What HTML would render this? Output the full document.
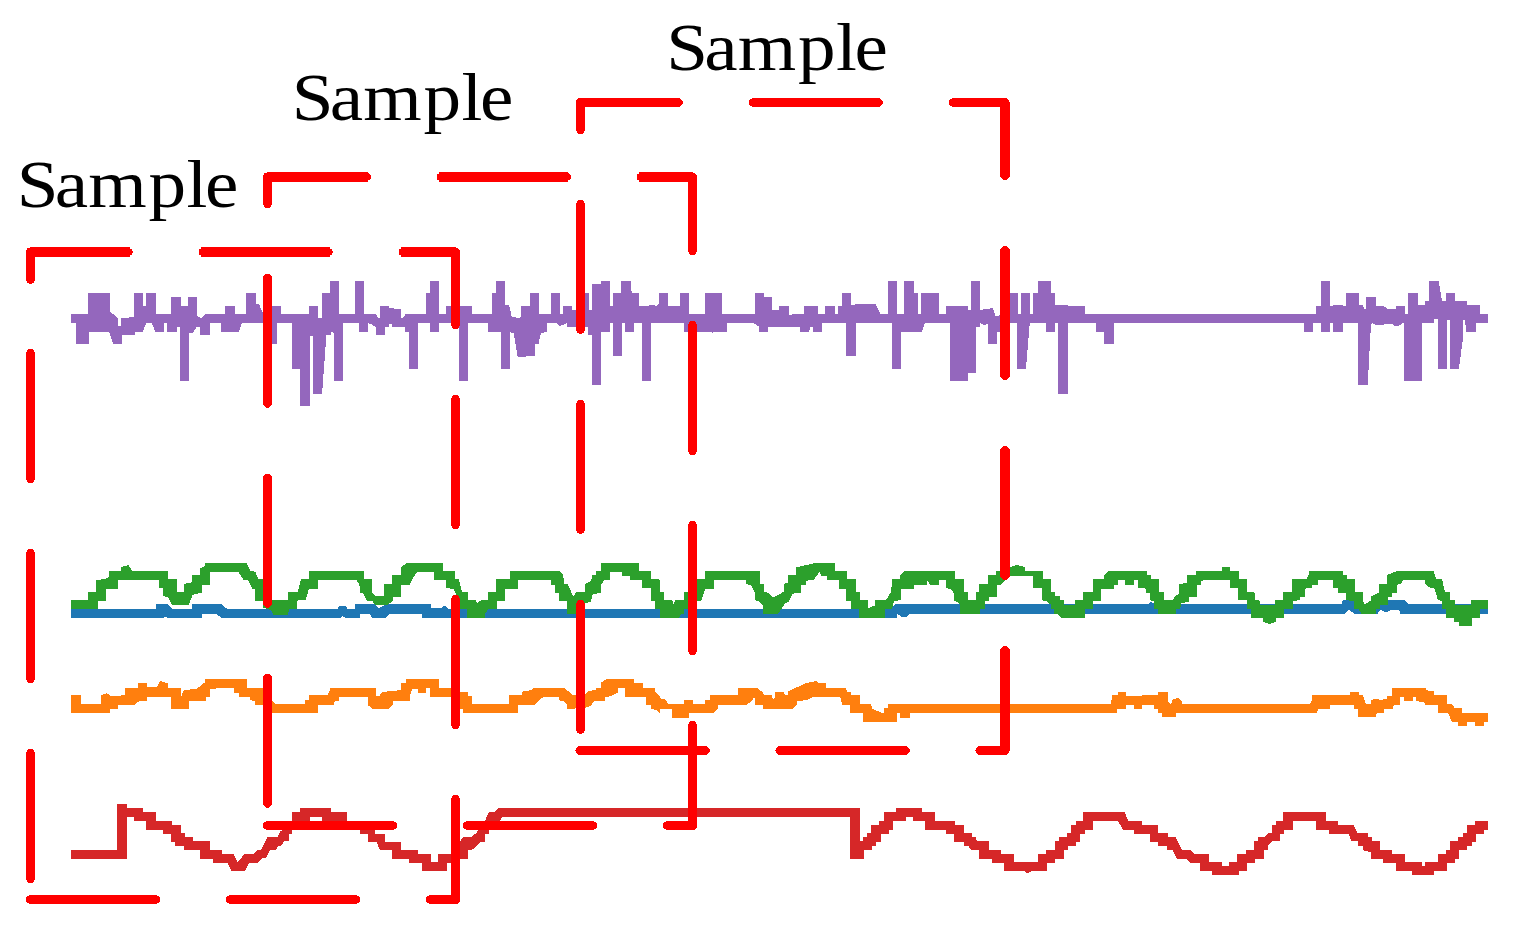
<!DOCTYPE html>
<html lang="en">
<head>
<meta charset="utf-8">
<title>Sample windows</title>
<style>
html,body{margin:0;padding:0;background:#ffffff;}
body{width:1513px;height:937px;overflow:hidden;}
svg{display:block;}
.lbl{font-family:"Liberation Serif",serif;fill:#000000;}
.sig{shape-rendering:crispEdges;stroke:none;}
.win{fill:none;stroke:#ff0000;stroke-linejoin:round;shape-rendering:crispEdges;}
</style>
</head>
<body>
<svg width="1513" height="937" viewBox="0 0 1513 937">
<rect x="0" y="0" width="1513" height="937" fill="#ffffff"/>
<path class="sig" fill="#1f77b4" d="M70.9 608.5 L155.6 608.5 L155.6 604.2 L168.1 604.2 L172.0 608.5 L191.9 608.5 L191.9 604.2 L221.6 604.2 L226.6 608.5 L337.6 608.5 L339.6 606.2 L345.5 606.2 L347.5 608.5 L355.4 608.5 L355.4 604.2 L360.0 604.2 L360.0 604.2 L374.9 604.2 L378.8 608.1 L383.8 605.6 L387.8 604.2 L430.8 604.2 L430.8 608.1 L441.3 608.1 L444.3 605.6 L448.2 608.5 L660.0 608.5 L660.0 608.5 L891.0 608.5 L895.0 604.2 L960.0 604.2 L960.0 604.2 L1148.4 604.2 L1151.3 601.6 L1154.3 604.2 L1260.0 604.2 L1260.0 604.2 L1341.3 604.2 L1342.9 600.2 L1353.8 600.2 L1353.8 604.2 L1387.5 604.2 L1387.5 600.2 L1404.3 600.2 L1408.3 604.2 L1488.0 604.2 L1488.0 613.5 L1400.4 613.5 L1399.4 610.5 L1391.5 610.1 L1385.5 612.5 L1380.5 609.5 L1377.6 613.5 L1353.8 613.5 L1348.8 609.5 L1344.9 613.5 L1260.0 613.5 L1260.0 613.5 L960.0 613.5 L960.0 613.5 L909.8 613.5 L906.9 616.5 L900.9 616.5 L896.9 613.5 L896.9 618.1 L660.0 618.1 L660.0 618.1 L422.1 618.1 L422.1 613.5 L389.7 613.5 L385.8 618.1 L372.9 618.1 L368.9 613.5 L360.0 613.5 L360.0 618.1 L345.5 618.1 L342.6 616.1 L340.6 618.1 L221.6 618.1 L215.7 613.5 L201.8 613.5 L201.8 618.1 L167.5 618.1 L165.5 616.5 L163.5 618.1 L70.9 618.1Z"/>
<path class="sig" fill="#2ca02c" d="M70.9 600.2 L88.2 600.2 L88.2 592.1 L96.3 592.1 L96.3 580.2 L105.6 578.8 L109.2 576.8 L109.2 571.3 L121.1 571.3 L121.1 567.3 L128.4 564.9 L132.4 571.3 L168.1 571.3 L168.1 579.2 L177.0 579.2 L177.0 592.1 L183.9 592.1 L183.9 583.8 L191.9 582.4 L191.9 574.8 L200.4 574.8 L200.4 568.5 L205.3 565.9 L205.3 562.9 L246.8 562.9 L250.0 570.5 L255.3 571.9 L258.3 579.2 L263.2 579.2 L272.2 600.2 L288.0 600.2 L288.0 592.1 L297.9 592.1 L300.9 579.2 L308.8 579.2 L308.8 571.3 L360.0 571.3 L360.0 571.3 L363.6 571.3 L363.6 579.2 L371.5 579.2 L371.5 592.1 L375.9 596.0 L383.8 596.0 L383.8 584.1 L392.1 584.1 L392.1 574.8 L401.0 574.8 L401.0 566.9 L406.6 563.3 L442.9 563.3 L442.9 571.3 L454.8 571.3 L454.8 579.2 L458.7 579.2 L462.1 592.1 L468.1 592.1 L468.1 600.2 L476.0 600.2 L477.0 603.2 L481.0 600.2 L488.3 600.2 L488.3 592.1 L496.4 592.1 L496.4 579.2 L509.7 579.2 L509.7 571.3 L559.3 571.3 L563.2 574.8 L564.2 583.8 L567.8 583.8 L573.2 596.6 L576.1 592.1 L584.5 592.1 L584.5 584.1 L591.0 580.8 L592.4 574.8 L596.0 574.8 L596.0 571.3 L600.9 571.3 L600.9 563.3 L639.0 563.3 L639.0 571.3 L651.1 571.3 L651.1 579.2 L659.4 579.2 L660.0 582.8 L660.0 592.1 L663.6 592.1 L663.6 600.2 L671.9 600.2 L673.5 603.6 L675.5 600.2 L684.2 600.2 L684.2 592.1 L688.2 592.1 L696.9 579.2 L705.2 579.2 L705.2 571.3 L759.7 571.3 L759.7 584.1 L763.7 584.1 L763.7 592.1 L768.1 592.7 L772.0 596.6 L775.0 596.6 L783.9 591.7 L783.9 583.8 L788.3 582.8 L788.3 574.8 L796.4 574.8 L796.4 567.3 L814.3 563.3 L834.9 563.3 L834.9 571.3 L846.8 571.3 L846.8 579.2 L855.9 579.2 L855.9 592.1 L859.9 592.1 L859.9 600.2 L867.8 600.2 L867.8 608.1 L875.1 605.6 L875.1 600.2 L886.0 600.2 L891.0 592.1 L892.4 579.2 L900.3 579.2 L900.3 574.8 L904.3 571.3 L955.0 571.3 L955.0 579.2 L960.0 579.2 L960.0 579.2 L963.6 579.2 L963.6 592.1 L967.9 592.1 L967.9 600.2 L975.5 600.2 L975.5 592.1 L979.4 592.1 L979.4 584.1 L988.2 584.1 L988.2 574.8 L996.3 574.8 L996.3 571.3 L1000.3 571.3 L1009.6 567.3 L1017.5 564.9 L1025.4 567.3 L1025.4 571.3 L1042.9 571.3 L1042.9 579.2 L1050.8 579.2 L1050.8 592.1 L1054.8 592.1 L1054.8 596.0 L1059.7 596.0 L1059.7 600.2 L1063.7 600.2 L1063.7 604.6 L1075.0 604.6 L1075.0 600.2 L1083.3 600.2 L1083.3 592.1 L1092.5 592.1 L1092.5 579.2 L1104.3 579.2 L1104.3 574.8 L1108.3 571.3 L1146.8 571.3 L1146.8 574.8 L1150.9 574.8 L1150.9 579.2 L1158.9 579.2 L1158.9 592.1 L1163.8 592.1 L1163.8 600.2 L1173.2 600.2 L1175.1 596.0 L1179.1 593.7 L1179.1 584.1 L1187.0 582.8 L1187.0 574.8 L1196.0 574.8 L1196.0 571.3 L1221.7 571.3 L1221.7 567.3 L1229.7 567.3 L1229.7 571.3 L1239.0 571.3 L1239.0 579.2 L1246.9 579.2 L1246.9 592.1 L1254.4 592.1 L1255.4 600.2 L1259.4 600.2 L1260.0 604.6 L1260.0 604.6 L1275.1 604.6 L1275.1 600.2 L1283.4 600.2 L1283.4 592.1 L1291.7 592.1 L1291.7 579.2 L1306.2 579.2 L1308.6 574.8 L1308.6 571.3 L1342.9 571.3 L1342.9 574.8 L1346.8 574.8 L1346.8 579.2 L1354.8 579.2 L1354.8 592.1 L1362.7 592.1 L1362.7 600.2 L1364.7 604.6 L1371.0 600.2 L1371.0 596.6 L1379.2 592.7 L1379.2 584.1 L1387.1 584.1 L1387.1 574.8 L1392.4 572.8 L1396.4 571.3 L1433.5 571.3 L1436.1 579.2 L1442.0 579.2 L1445.0 592.1 L1450.3 592.1 L1450.3 600.2 L1454.9 600.2 L1454.9 604.6 L1470.8 604.6 L1470.8 600.2 L1488.0 600.2 L1488.0 608.9 L1479.7 608.9 L1479.7 618.1 L1471.8 618.1 L1471.8 625.8 L1458.9 625.8 L1458.9 622.4 L1453.9 622.0 L1453.9 617.5 L1446.0 617.5 L1446.0 608.9 L1442.0 608.9 L1442.0 601.0 L1438.0 600.2 L1434.7 588.7 L1430.1 587.7 L1425.2 584.1 L1425.2 579.8 L1403.4 580.4 L1400.4 583.8 L1397.0 584.7 L1397.0 592.7 L1392.4 592.7 L1392.4 596.6 L1387.5 596.6 L1387.5 604.6 L1379.6 604.6 L1379.6 608.9 L1376.0 608.9 L1376.0 613.9 L1361.7 613.9 L1358.7 609.5 L1354.2 608.9 L1354.2 601.0 L1346.2 600.2 L1346.2 592.7 L1337.5 592.7 L1337.5 588.3 L1333.4 588.3 L1333.4 579.8 L1317.7 579.8 L1317.7 584.7 L1312.1 584.7 L1312.1 587.7 L1304.6 588.7 L1304.6 596.6 L1300.2 596.6 L1300.2 600.2 L1292.7 601.0 L1292.7 608.9 L1283.8 608.9 L1283.8 618.1 L1275.5 618.1 L1275.5 622.0 L1269.5 624.0 L1263.6 622.0 L1262.6 618.1 L1260.0 618.1 L1260.0 618.1 L1250.5 618.1 L1250.5 608.9 L1246.5 608.9 L1246.5 600.2 L1237.6 600.2 L1237.6 588.3 L1229.7 588.3 L1229.7 579.8 L1208.8 579.8 L1200.9 580.8 L1200.9 584.7 L1196.9 584.7 L1196.9 596.6 L1189.0 596.6 L1189.0 601.6 L1181.1 603.6 L1180.1 608.9 L1176.1 608.9 L1176.1 613.5 L1158.3 613.5 L1158.3 608.9 L1154.3 608.9 L1154.3 601.6 L1150.4 600.2 L1150.4 592.7 L1146.4 592.7 L1146.4 588.7 L1137.5 587.7 L1137.5 579.8 L1134.1 579.8 L1134.1 584.7 L1125.2 584.7 L1125.2 579.8 L1118.0 579.8 L1118.0 584.7 L1113.7 584.7 L1113.7 588.7 L1100.8 588.7 L1100.8 601.0 L1092.5 601.0 L1092.5 608.9 L1084.9 608.9 L1084.9 618.1 L1061.1 618.1 L1057.2 613.5 L1054.2 613.5 L1054.2 608.9 L1050.8 608.9 L1050.8 604.6 L1047.2 601.6 L1042.3 600.2 L1042.3 588.3 L1033.4 588.3 L1033.4 576.2 L1009.6 576.2 L1001.0 584.7 L996.9 584.7 L996.9 596.6 L988.8 596.6 L988.8 601.0 L984.8 601.0 L984.8 608.9 L979.8 608.9 L979.8 613.5 L960.0 613.5 L960.0 604.6 L958.4 602.6 L954.4 601.0 L954.4 593.7 L950.5 589.1 L945.5 587.7 L945.5 579.8 L939.6 579.8 L938.6 584.7 L929.7 584.7 L927.7 579.8 L926.7 584.7 L913.8 584.7 L913.8 588.7 L900.9 588.7 L900.9 600.2 L894.0 601.0 L892.0 608.9 L885.0 608.9 L885.0 618.1 L858.9 618.1 L858.9 608.9 L850.9 608.9 L850.9 601.0 L846.4 601.0 L846.4 588.7 L838.5 588.7 L838.5 579.8 L826.6 579.8 L826.6 575.8 L821.0 575.8 L819.6 571.9 L813.7 579.8 L805.7 580.8 L805.7 584.7 L801.2 584.7 L801.2 592.7 L792.8 593.7 L788.9 601.6 L784.9 603.6 L778.0 613.9 L763.1 613.9 L763.1 605.6 L759.7 601.6 L755.2 600.2 L755.2 593.7 L750.8 585.1 L746.3 584.1 L746.3 579.8 L713.5 579.8 L713.5 588.7 L705.2 588.7 L701.0 601.0 L696.9 601.0 L688.2 608.9 L683.8 608.9 L683.8 613.5 L680.8 614.1 L678.8 618.1 L660.0 618.1 L660.0 608.9 L655.4 608.9 L655.4 601.0 L650.5 601.0 L650.5 588.3 L641.6 588.3 L641.6 579.8 L630.1 579.8 L630.1 575.8 L621.7 575.8 L621.7 571.9 L609.8 571.9 L609.8 579.8 L604.9 579.8 L600.9 584.7 L600.9 592.7 L592.4 594.7 L591.0 601.6 L585.0 603.6 L585.0 613.5 L567.2 613.5 L567.2 601.0 L559.3 601.0 L559.3 592.7 L555.3 592.7 L555.3 584.7 L550.9 584.7 L550.9 579.8 L518.0 579.8 L518.0 588.7 L505.3 588.7 L505.3 601.0 L496.8 601.0 L496.8 608.9 L488.9 608.9 L484.9 613.5 L484.9 618.1 L467.1 618.1 L467.1 608.9 L459.7 608.9 L458.7 596.6 L457.2 596.6 L453.2 588.7 L446.3 588.3 L446.3 579.8 L434.4 579.8 L434.4 571.9 L417.5 571.9 L413.5 576.8 L409.6 584.7 L401.0 584.7 L401.0 596.6 L392.7 596.6 L392.7 601.0 L387.8 604.6 L374.9 604.6 L372.3 601.0 L366.9 601.0 L363.0 592.7 L360.0 592.7 L360.0 592.7 L359.4 584.7 L356.4 579.8 L317.8 579.8 L317.8 588.7 L308.8 588.7 L305.9 599.6 L296.9 600.6 L296.9 608.9 L289.0 608.9 L288.0 614.5 L273.2 614.5 L271.2 610.5 L263.2 607.5 L263.2 600.6 L255.3 600.6 L255.3 588.7 L252.3 588.7 L248.4 580.4 L243.4 579.8 L238.5 571.9 L209.7 571.9 L209.7 584.7 L201.8 584.7 L201.8 592.7 L192.8 594.7 L188.9 604.6 L172.0 604.6 L168.1 597.0 L163.1 596.2 L163.1 588.3 L159.1 588.3 L159.1 579.8 L117.9 579.8 L117.9 588.7 L106.0 588.7 L106.0 601.0 L97.7 601.0 L97.7 608.9 L70.9 608.9Z"/>
<path class="sig" fill="#ff7f0e" d="M70.9 695.2 L80.8 695.2 L80.8 703.7 L101.2 703.7 L101.2 695.2 L106.6 693.2 L110.6 695.8 L117.5 695.8 L125.4 695.2 L125.4 687.5 L138.3 687.5 L138.3 683.3 L146.8 683.3 L146.8 687.5 L157.2 686.9 L160.1 680.9 L168.1 683.3 L168.1 687.5 L181.0 687.5 L181.0 696.8 L183.9 690.2 L196.8 688.8 L201.8 684.9 L205.3 681.9 L205.3 679.3 L246.8 679.3 L246.8 687.5 L263.2 687.5 L272.2 700.7 L275.1 703.7 L304.9 703.7 L304.9 699.7 L308.8 699.7 L308.8 695.2 L327.7 695.2 L330.7 687.5 L360.0 687.5 L360.0 687.5 L375.5 687.5 L375.5 696.2 L379.8 696.2 L380.8 692.8 L388.8 691.2 L401.0 690.2 L401.0 683.3 L405.6 683.3 L405.6 679.3 L438.9 679.3 L438.9 687.5 L451.2 687.5 L459.7 691.8 L468.1 691.8 L468.1 695.8 L472.0 695.8 L472.0 704.1 L509.1 704.1 L509.1 695.2 L521.6 695.2 L521.6 691.8 L530.5 690.2 L534.5 687.5 L563.8 687.5 L567.8 690.8 L572.2 695.2 L585.0 695.2 L588.0 690.8 L596.0 690.2 L596.0 687.5 L600.9 687.5 L600.9 682.9 L605.9 679.3 L634.0 679.3 L634.0 683.3 L642.6 683.3 L642.6 687.5 L655.0 687.5 L655.0 691.8 L659.4 695.2 L660.0 697.8 L660.0 698.2 L665.9 699.7 L667.9 704.1 L684.2 704.1 L684.2 700.3 L692.7 700.3 L692.7 704.1 L705.2 704.1 L705.2 699.7 L709.6 699.7 L709.6 695.2 L738.3 695.2 L738.3 687.5 L756.8 687.5 L763.1 692.8 L764.1 695.2 L771.4 695.2 L773.0 699.7 L775.0 697.8 L775.0 692.2 L783.9 692.2 L784.9 694.8 L788.3 694.8 L788.3 691.2 L805.7 683.3 L816.6 680.9 L818.6 683.3 L825.6 683.3 L825.6 687.5 L845.4 687.5 L847.4 691.8 L851.3 691.8 L851.3 695.2 L859.9 695.2 L859.9 704.1 L871.2 704.1 L872.2 708.7 L882.1 713.0 L884.1 713.0 L884.1 708.1 L888.0 708.1 L888.0 704.1 L960.0 704.1 L960.0 704.1 L1111.1 704.1 L1112.1 695.2 L1117.6 695.2 L1117.6 691.8 L1126.2 691.8 L1126.2 695.8 L1158.3 695.2 L1158.3 691.8 L1167.8 691.8 L1167.8 701.7 L1171.2 704.1 L1172.2 699.7 L1178.1 697.8 L1181.7 700.7 L1181.7 704.1 L1260.0 704.1 L1260.0 704.1 L1310.2 704.1 L1312.1 699.7 L1312.1 695.2 L1350.2 695.2 L1350.2 691.8 L1358.7 691.8 L1359.7 695.2 L1362.7 695.2 L1365.7 703.7 L1371.0 703.7 L1371.0 699.7 L1379.2 698.8 L1379.2 700.3 L1387.1 698.8 L1387.1 695.8 L1391.5 695.8 L1391.5 687.5 L1425.8 687.5 L1425.8 689.8 L1429.7 691.2 L1433.7 691.2 L1433.7 695.2 L1447.0 695.2 L1447.0 704.1 L1451.9 704.1 L1454.9 708.1 L1462.4 708.1 L1462.4 713.0 L1488.0 713.0 L1488.0 722.0 L1483.7 722.0 L1483.7 725.9 L1475.1 725.9 L1475.1 722.0 L1466.8 722.0 L1466.8 725.9 L1458.3 725.9 L1458.3 721.6 L1451.9 721.6 L1448.0 713.0 L1438.0 713.0 L1438.0 704.7 L1425.2 704.7 L1425.2 702.7 L1420.2 701.7 L1416.2 700.7 L1416.2 696.8 L1412.9 696.8 L1412.9 700.7 L1403.9 700.7 L1403.9 696.8 L1400.4 696.8 L1400.4 704.7 L1393.0 705.7 L1393.0 708.7 L1383.5 709.1 L1383.5 713.0 L1376.0 713.6 L1376.0 717.0 L1358.3 717.0 L1358.3 709.1 L1354.2 709.1 L1354.2 704.7 L1329.6 704.7 L1329.6 709.1 L1318.1 709.1 L1316.5 713.0 L1260.0 713.0 L1260.0 713.0 L1175.7 713.0 L1175.7 717.0 L1162.2 717.0 L1162.2 713.6 L1158.3 713.0 L1158.3 709.1 L1154.3 709.1 L1154.3 705.1 L1142.4 705.1 L1142.4 709.1 L1133.5 709.1 L1133.5 705.1 L1126.2 705.1 L1126.2 709.1 L1117.6 709.1 L1116.6 713.0 L960.0 713.0 L960.0 713.0 L909.8 713.0 L909.8 717.6 L900.3 717.6 L900.3 713.0 L896.9 713.0 L896.9 721.6 L863.2 721.6 L863.2 713.0 L850.4 713.0 L850.4 704.7 L842.4 704.7 L840.0 696.8 L813.7 696.8 L805.7 700.3 L796.8 701.1 L796.8 704.7 L792.5 709.1 L763.1 709.1 L763.1 704.7 L755.2 704.7 L755.2 697.8 L753.2 697.8 L752.2 700.7 L746.8 704.7 L717.9 704.7 L717.9 708.7 L713.9 713.0 L689.1 713.0 L689.1 717.6 L671.5 717.6 L671.5 709.1 L660.0 709.1 L660.0 713.0 L655.4 709.7 L650.5 709.1 L650.5 704.7 L646.1 704.7 L646.1 696.8 L625.1 696.8 L625.1 688.2 L617.8 688.2 L617.8 692.8 L608.8 696.8 L604.9 696.8 L604.9 701.1 L594.0 701.1 L591.0 705.7 L585.0 707.7 L567.2 709.1 L567.2 704.7 L563.2 701.1 L559.3 700.3 L559.3 696.8 L543.4 696.8 L538.5 701.1 L534.5 704.7 L518.0 704.7 L518.0 713.0 L463.1 713.0 L463.1 708.7 L459.7 708.7 L451.2 696.8 L430.4 696.8 L430.4 688.2 L425.8 688.2 L425.8 692.8 L417.5 692.8 L417.5 688.8 L412.5 688.8 L409.6 696.2 L409.6 701.1 L392.7 701.1 L392.7 704.7 L388.8 709.1 L372.9 709.1 L367.5 704.7 L367.5 696.8 L360.0 696.8 L360.0 696.8 L339.2 696.8 L339.2 700.7 L334.6 701.7 L333.6 704.7 L317.8 704.7 L317.8 713.0 L272.2 713.0 L263.2 704.7 L255.3 704.7 L255.3 701.1 L250.4 700.3 L250.4 696.8 L238.5 696.8 L238.5 692.8 L234.1 692.8 L234.1 687.8 L222.6 688.2 L209.7 688.8 L209.7 696.8 L205.7 696.8 L205.7 701.1 L188.9 701.1 L188.9 708.7 L171.0 708.7 L171.0 696.8 L146.8 696.8 L146.8 701.1 L139.3 701.1 L136.3 702.7 L134.4 704.7 L117.9 704.7 L117.9 708.7 L109.6 708.7 L109.6 713.0 L70.9 713.0Z"/>
<path class="sig" fill="#d62728" d="M70.9 850.3 L116.9 850.3 L116.9 804.1 L126.8 804.1 L126.8 808.1 L142.9 808.1 L142.9 812.2 L156.2 812.2 L156.2 821.0 L172.0 821.0 L172.0 825.1 L180.6 825.1 L180.6 833.1 L184.9 833.1 L184.9 837.0 L192.8 837.0 L192.8 841.4 L209.7 841.4 L209.7 849.9 L222.0 849.9 L222.0 853.9 L233.5 853.9 L237.5 862.2 L244.4 854.3 L253.3 854.3 L257.3 849.9 L261.3 849.9 L267.2 837.4 L277.1 837.4 L280.1 831.5 L284.1 829.5 L288.0 823.5 L292.4 821.0 L292.4 812.2 L300.3 812.2 L300.3 808.1 L330.7 808.1 L330.7 812.2 L346.5 812.2 L346.5 821.0 L360.0 821.0 L360.0 821.0 L374.9 829.5 L374.9 833.8 L384.8 833.8 L384.8 841.8 L400.6 841.8 L400.6 849.9 L417.9 849.9 L417.9 853.9 L430.8 853.9 L430.8 862.2 L438.3 862.2 L438.3 853.9 L459.7 853.9 L459.7 841.8 L463.1 837.4 L471.0 837.4 L476.0 833.1 L481.0 827.5 L484.9 821.0 L488.9 812.2 L494.8 812.2 L498.8 808.1 L660.0 808.1 L660.0 808.1 L859.7 808.1 L859.7 841.4 L863.2 841.4 L863.2 837.4 L867.2 837.4 L867.2 833.1 L871.2 833.1 L871.2 825.1 L879.1 825.1 L879.1 821.0 L884.1 821.0 L884.1 812.2 L896.0 812.2 L896.0 808.1 L921.7 808.1 L921.7 812.2 L934.6 812.2 L934.6 821.0 L954.8 821.0 L954.8 825.1 L960.0 825.1 L960.0 825.1 L963.6 825.1 L963.6 833.1 L971.9 833.1 L971.9 837.4 L975.9 837.4 L976.9 841.4 L988.8 841.4 L988.8 849.9 L1000.6 849.9 L1000.6 853.9 L1013.5 853.9 L1013.5 862.2 L1038.3 862.2 L1038.3 853.9 L1046.3 853.9 L1046.3 849.9 L1054.8 849.9 L1054.8 841.4 L1058.5 841.4 L1058.5 837.4 L1067.1 837.4 L1067.1 833.1 L1071.4 833.1 L1071.4 825.1 L1075.6 825.1 L1075.6 821.0 L1083.3 821.0 L1083.3 812.2 L1124.6 812.2 L1128.5 821.0 L1142.4 821.0 L1142.4 825.1 L1158.3 825.1 L1158.3 833.1 L1167.8 833.1 L1167.8 837.4 L1175.7 837.4 L1182.1 849.9 L1190.0 849.9 L1194.0 853.9 L1208.8 853.9 L1208.8 862.2 L1221.7 862.2 L1221.7 866.2 L1229.1 866.2 L1229.1 862.2 L1237.2 862.2 L1237.2 853.9 L1246.1 853.9 L1246.1 849.9 L1254.4 849.9 L1254.4 841.4 L1258.4 841.4 L1258.4 837.4 L1260.0 837.4 L1260.0 837.4 L1264.6 837.4 L1268.5 833.1 L1271.5 833.1 L1271.5 825.1 L1275.5 825.1 L1275.5 821.0 L1283.4 821.0 L1283.4 812.2 L1326.0 812.2 L1326.0 821.0 L1337.9 821.0 L1337.9 825.1 L1353.4 825.1 L1357.3 833.1 L1367.7 833.1 L1367.7 837.4 L1371.6 837.4 L1371.6 841.4 L1379.6 841.4 L1379.6 849.9 L1392.4 849.9 L1392.4 853.9 L1404.7 853.9 L1404.7 862.2 L1421.8 862.2 L1421.8 866.2 L1425.2 866.2 L1425.2 862.2 L1438.0 862.2 L1438.0 853.9 L1446.4 853.9 L1446.4 849.9 L1450.3 849.9 L1450.3 841.4 L1458.3 841.4 L1458.3 837.4 L1463.2 837.4 L1463.2 833.1 L1467.2 833.1 L1467.2 825.1 L1475.1 825.1 L1475.1 821.0 L1488.0 821.0 L1488.0 829.5 L1483.7 829.5 L1483.7 833.8 L1475.7 833.8 L1475.7 841.8 L1471.8 841.8 L1471.8 845.7 L1466.8 845.7 L1466.8 849.9 L1458.9 849.9 L1458.9 858.6 L1454.9 858.6 L1454.9 862.6 L1447.0 862.6 L1447.0 870.5 L1434.1 870.5 L1434.1 874.7 L1412.3 874.7 L1412.3 870.5 L1396.4 870.5 L1396.4 862.6 L1383.1 862.6 L1383.1 858.6 L1371.0 858.6 L1371.0 852.3 L1366.7 851.3 L1362.7 849.9 L1362.7 845.7 L1358.3 845.7 L1358.3 841.4 L1351.8 841.4 L1348.4 833.8 L1329.4 833.8 L1329.4 829.5 L1316.1 829.5 L1316.1 820.6 L1292.7 820.6 L1292.7 829.5 L1283.8 829.5 L1283.8 833.8 L1279.8 833.8 L1279.8 841.4 L1272.5 841.4 L1267.5 845.7 L1267.5 849.9 L1264.0 849.9 L1264.0 858.6 L1260.0 858.6 L1260.0 858.6 L1255.0 858.6 L1255.0 862.6 L1246.5 862.6 L1246.5 870.5 L1239.0 870.5 L1239.0 874.7 L1212.2 874.7 L1212.2 870.5 L1200.3 870.5 L1200.3 862.6 L1190.0 862.6 L1186.0 858.6 L1176.7 858.6 L1172.2 849.9 L1167.2 849.9 L1167.2 845.7 L1158.3 845.7 L1158.3 841.8 L1150.4 841.8 L1150.4 833.8 L1133.5 833.8 L1133.5 829.5 L1122.6 829.5 L1118.0 820.6 L1092.5 820.6 L1092.5 829.5 L1084.9 829.5 L1084.9 833.8 L1080.0 833.8 L1080.0 841.8 L1076.0 841.8 L1076.0 845.7 L1068.1 845.7 L1068.1 849.9 L1063.7 849.9 L1063.7 858.6 L1054.8 858.6 L1054.8 862.6 L1046.6 862.6 L1046.6 870.5 L1033.4 870.5 L1027.4 873.5 L1023.5 870.5 L1004.2 870.5 L1004.2 862.6 L992.1 862.6 L992.1 858.6 L979.4 858.6 L979.4 849.9 L971.5 849.9 L967.9 845.7 L963.6 845.7 L963.6 841.8 L960.0 841.8 L960.0 841.8 L954.4 841.8 L954.4 833.8 L946.1 833.8 L946.1 829.5 L925.3 829.5 L925.3 820.6 L913.2 820.6 L913.2 817.0 L905.9 817.0 L905.9 820.6 L893.0 820.6 L893.0 829.5 L889.0 829.5 L889.0 833.8 L880.5 833.8 L880.5 841.8 L876.1 841.8 L876.1 845.7 L871.8 845.7 L871.8 849.9 L863.6 849.9 L863.6 858.6 L850.4 858.6 L850.4 817.0 L660.0 817.0 L660.0 817.0 L502.8 817.0 L498.8 821.6 L488.9 829.5 L488.9 833.8 L484.9 833.8 L484.9 841.8 L481.0 841.8 L477.0 845.7 L472.0 849.9 L468.1 849.9 L468.1 858.6 L459.7 858.6 L459.7 862.6 L446.6 862.6 L446.6 870.5 L422.1 870.5 L422.1 862.6 L409.2 862.6 L409.2 858.6 L392.1 858.6 L392.1 849.9 L379.8 849.9 L376.5 841.8 L367.5 841.8 L367.5 833.8 L360.0 833.8 L360.0 829.5 L322.1 829.5 L322.1 817.0 L309.8 817.0 L309.8 829.5 L292.4 829.5 L292.4 833.8 L289.0 833.8 L289.0 841.4 L284.1 841.4 L281.1 845.7 L278.1 845.7 L276.1 849.9 L269.8 849.9 L266.2 858.2 L261.3 858.6 L258.3 862.6 L249.4 862.6 L245.4 870.5 L231.5 870.5 L227.5 862.6 L213.1 862.6 L213.1 858.6 L200.4 858.6 L200.4 849.9 L183.9 849.9 L183.9 845.7 L175.0 845.7 L175.0 841.8 L171.0 841.8 L171.0 833.8 L163.1 833.8 L163.1 829.5 L146.3 829.5 L146.3 820.6 L133.8 820.6 L133.8 817.0 L126.8 817.0 L126.8 858.8 L70.9 858.8Z"/>
<path class="sig" fill="#9467bd" d="M70.9 314.0 L88.2 314.0 L88.2 293.2 L110.0 293.2 L110.0 311.2 L117.5 318.2 L118.1 326.1 L121.1 326.1 L121.1 318.2 L134.4 317.0 L134.4 293.2 L142.9 293.2 L142.9 305.7 L146.3 305.7 L146.3 293.2 L156.0 293.2 L156.0 314.0 L171.0 314.0 L171.0 297.2 L180.6 297.2 L180.6 305.7 L188.3 305.7 L188.3 297.2 L196.8 297.2 L196.8 315.6 L201.2 318.2 L205.7 314.0 L225.2 314.0 L225.2 306.1 L234.9 306.1 L234.9 314.0 L246.0 314.0 L246.0 293.2 L255.9 293.2 L255.9 303.7 L259.3 304.7 L263.2 314.0 L272.2 314.0 L272.2 306.1 L280.7 306.1 L280.7 314.0 L309.2 314.0 L309.2 306.1 L317.8 306.1 L317.8 318.2 L322.1 318.2 L322.1 293.2 L330.3 293.2 L330.3 280.9 L339.0 280.9 L339.0 314.0 L355.4 314.0 L355.4 280.9 L360.0 280.9 L360.0 280.9 L363.6 280.9 L363.6 314.0 L375.5 314.0 L378.8 318.2 L380.4 318.2 L380.4 306.1 L388.8 306.1 L389.7 308.1 L400.6 309.1 L400.6 318.2 L402.6 318.2 L405.6 314.0 L426.0 314.0 L426.0 293.2 L430.4 293.2 L430.4 280.9 L438.9 280.9 L438.9 314.0 L446.3 314.0 L446.3 306.1 L471.8 306.1 L471.8 314.0 L492.3 314.0 L492.3 293.2 L496.4 293.2 L496.4 280.9 L504.7 280.9 L504.7 305.3 L509.1 305.3 L511.7 316.6 L518.6 318.2 L521.0 317.0 L521.0 306.1 L530.1 306.1 L530.1 293.2 L538.8 293.2 L538.8 314.0 L550.9 314.0 L550.9 293.2 L559.7 293.2 L559.7 314.0 L563.2 314.0 L563.2 306.1 L571.8 306.1 L571.8 310.3 L585.0 310.3 L585.0 293.2 L588.6 293.2 L588.6 310.3 L592.4 310.3 L592.4 284.3 L600.9 284.3 L600.9 280.9 L609.8 280.9 L609.8 306.1 L613.2 306.1 L613.2 293.2 L621.3 293.2 L621.3 280.9 L630.7 280.9 L630.7 289.8 L632.6 293.2 L639.0 293.2 L639.0 306.1 L645.5 306.1 L653.5 304.7 L656.4 306.1 L659.4 302.7 L659.4 293.2 L660.0 293.2 L660.0 293.2 L667.9 293.2 L667.9 306.1 L680.2 306.1 L680.2 293.2 L688.9 293.2 L688.9 314.0 L705.2 314.0 L705.2 293.2 L721.9 293.2 L721.9 314.0 L755.2 314.0 L755.2 293.2 L763.7 293.2 L763.7 297.2 L772.0 297.2 L772.0 309.7 L779.0 309.7 L779.0 306.1 L788.9 306.1 L788.9 315.2 L794.8 314.0 L804.2 314.0 L804.2 306.1 L817.8 306.1 L817.8 314.0 L825.2 314.0 L825.2 306.1 L834.9 306.1 L834.9 314.0 L838.1 314.0 L838.1 306.1 L842.0 306.1 L842.0 293.2 L850.9 293.2 L850.9 304.7 L875.1 303.7 L880.5 314.0 L888.0 314.0 L888.0 280.9 L896.9 280.9 L896.9 314.0 L904.3 314.0 L904.3 280.9 L913.8 280.9 L913.8 293.2 L917.8 293.2 L917.8 314.0 L921.3 314.0 L921.3 293.2 L939.0 293.2 L939.0 314.0 L945.9 314.0 L945.9 306.1 L960.0 306.1 L960.0 306.1 L967.9 306.1 L967.9 310.3 L971.1 310.3 L971.1 280.9 L979.8 280.9 L979.8 310.3 L983.4 309.3 L992.7 308.1 L995.7 316.6 L1000.3 315.2 L1009.6 314.0 L1009.6 293.2 L1017.9 293.2 L1017.9 314.0 L1021.1 314.0 L1021.1 293.2 L1029.8 293.2 L1029.8 314.0 L1033.4 314.0 L1033.4 293.2 L1038.1 293.2 L1038.1 280.9 L1050.8 280.9 L1050.8 293.2 L1054.8 293.2 L1054.8 304.7 L1068.1 304.7 L1068.1 306.1 L1084.9 306.1 L1084.9 314.0 L1260.0 314.0 L1260.0 314.0 L1316.1 314.0 L1316.1 306.1 L1321.1 306.1 L1321.1 280.9 L1330.0 280.9 L1330.0 306.1 L1334.0 305.3 L1342.9 304.7 L1342.9 306.1 L1346.2 306.1 L1346.2 293.2 L1358.7 293.2 L1358.7 305.3 L1362.7 304.7 L1364.1 308.7 L1366.1 308.7 L1366.1 297.2 L1376.0 297.2 L1376.0 306.1 L1383.5 306.1 L1387.5 308.7 L1395.8 309.1 L1395.8 306.1 L1404.9 306.1 L1404.9 314.0 L1408.3 314.0 L1408.3 293.2 L1417.8 293.2 L1417.8 304.7 L1425.2 304.7 L1425.2 301.1 L1429.1 301.1 L1429.1 280.9 L1438.6 280.9 L1442.0 301.1 L1446.0 301.1 L1446.0 293.2 L1454.9 293.2 L1454.9 301.1 L1466.8 301.1 L1466.8 305.3 L1479.7 305.3 L1479.7 314.0 L1488.0 314.0 L1488.0 322.9 L1476.1 322.9 L1476.1 331.5 L1466.4 331.5 L1464.8 319.6 L1463.2 319.6 L1462.8 339.4 L1458.9 368.5 L1450.3 368.5 L1450.3 319.6 L1447.0 319.6 L1447.0 368.5 L1438.0 368.5 L1438.0 319.6 L1433.5 318.6 L1433.5 322.9 L1421.8 322.9 L1421.8 380.6 L1403.9 380.6 L1403.9 322.9 L1403.4 322.9 L1399.4 325.5 L1394.4 325.5 L1391.5 323.5 L1376.6 325.5 L1371.6 322.9 L1370.6 331.5 L1367.7 384.6 L1358.1 384.6 L1358.1 322.9 L1342.9 322.9 L1342.9 331.5 L1333.0 331.5 L1333.0 322.9 L1330.0 322.9 L1330.0 331.5 L1321.1 331.5 L1321.1 322.9 L1312.7 322.9 L1312.7 331.5 L1303.8 331.5 L1303.8 322.9 L1260.0 322.9 L1260.0 322.9 L1114.1 322.9 L1114.1 343.8 L1104.2 343.8 L1104.2 331.5 L1096.0 331.5 L1096.0 322.9 L1068.1 322.9 L1068.1 393.7 L1058.1 393.7 L1058.1 322.9 L1054.8 322.9 L1054.8 331.5 L1045.9 331.5 L1045.9 322.9 L1029.8 322.9 L1028.4 339.4 L1026.0 368.5 L1017.1 368.5 L1017.1 322.9 L1009.6 322.9 L1009.6 331.5 L1000.3 331.5 L996.9 331.5 L996.9 343.8 L988.2 343.8 L988.2 323.5 L984.8 325.5 L979.8 322.9 L979.8 326.5 L975.9 326.5 L975.9 372.7 L967.9 372.7 L967.9 380.6 L960.0 380.6 L960.0 380.6 L950.1 380.6 L950.1 322.9 L924.7 322.9 L922.1 331.9 L909.8 332.5 L900.9 331.5 L900.9 368.5 L892.0 368.5 L892.0 322.9 L855.9 322.9 L855.9 355.7 L846.0 355.7 L846.0 322.9 L821.8 322.9 L821.8 331.5 L813.3 331.5 L813.3 326.5 L810.7 326.5 L809.1 331.5 L806.7 332.5 L800.2 331.5 L800.2 326.5 L767.7 326.5 L767.7 331.5 L759.1 331.5 L759.1 325.5 L757.2 325.5 L753.2 322.9 L726.8 322.9 L726.8 331.5 L716.5 331.5 L712.5 332.7 L710.6 331.5 L684.2 331.5 L684.2 322.9 L660.0 322.9 L660.0 322.9 L650.9 322.9 L650.9 380.6 L642.0 380.6 L642.0 322.9 L634.0 322.9 L634.0 331.5 L625.1 331.5 L625.1 322.9 L622.1 322.9 L622.1 355.7 L613.2 355.7 L613.2 322.9 L609.8 322.9 L609.8 331.5 L600.9 331.5 L600.9 384.6 L592.0 384.6 L592.0 335.4 L588.0 335.4 L588.0 326.5 L567.2 326.5 L567.2 322.9 L564.2 324.5 L559.9 325.9 L556.3 322.9 L546.8 322.9 L546.8 331.5 L540.8 333.5 L539.4 339.4 L539.4 343.8 L534.9 343.8 L534.9 355.7 L526.6 355.7 L525.6 356.6 L517.6 356.6 L513.7 333.5 L509.9 331.9 L509.9 368.5 L500.8 368.5 L500.8 331.5 L488.3 331.5 L488.3 322.9 L468.1 322.9 L468.1 380.6 L459.1 380.6 L459.1 322.9 L438.9 322.9 L438.9 331.5 L430.0 331.5 L430.0 322.9 L417.9 322.9 L417.9 368.5 L409.0 368.5 L409.0 331.5 L405.2 331.5 L405.2 326.5 L391.7 326.5 L391.7 323.5 L388.8 323.5 L388.8 327.1 L384.8 327.1 L384.8 335.4 L375.9 335.4 L375.9 327.5 L371.9 324.5 L367.9 322.9 L367.9 331.5 L360.0 331.5 L360.0 331.5 L359.4 331.5 L359.4 322.9 L342.9 322.9 L342.9 380.6 L334.4 380.6 L334.4 333.1 L331.6 331.5 L330.9 335.4 L325.7 335.4 L325.7 344.4 L322.1 393.7 L313.2 393.7 L313.2 335.8 L309.8 335.8 L309.8 405.8 L300.1 405.8 L300.1 368.5 L292.0 368.5 L292.0 322.9 L276.9 322.9 L276.9 343.8 L272.2 343.8 L272.2 322.9 L241.8 322.9 L239.0 331.9 L236.5 331.9 L221.0 331.5 L221.0 322.9 L209.7 322.9 L209.7 335.4 L200.2 335.4 L200.2 326.5 L196.8 326.5 L193.2 332.5 L188.9 333.1 L188.9 380.6 L180.2 380.6 L180.2 326.9 L176.6 326.9 L176.6 331.5 L167.1 331.5 L167.1 322.9 L163.5 322.9 L163.5 331.5 L155.6 332.5 L151.6 322.9 L146.3 322.9 L142.3 332.5 L135.0 331.9 L135.0 335.4 L121.9 335.4 L121.9 343.8 L113.5 344.4 L109.0 331.5 L89.1 331.5 L89.1 344.0 L75.9 344.0 L75.9 322.9 L70.9 322.9Z"/>
<path class="win" stroke-width="9.3" stroke-linecap="butt" d="M28.80 899.50 L157.20 899.50 M228.80 899.50 L357.20 899.50 M428.80 899.50 L455.50 899.50 L455.50 797.80 M455.50 726.20 L455.50 597.80 M455.50 526.20 L455.50 397.80 M455.50 326.20 L455.50 252.00 L401.40 252.00 M329.80 252.00 L201.40 252.00 M129.80 252.00 L30.50 252.00 L30.50 281.05 M30.50 351.80 L30.50 480.20 M30.50 551.80 L30.50 680.20 M30.50 751.80 L30.50 880.20"/>
<path class="win" stroke-width="7.4" stroke-linecap="round" d="M29.60 899.50 L156.40 899.50 M229.60 899.50 L356.40 899.50 M429.60 899.50 L455.50 899.50 L455.50 798.60 M455.50 725.40 L455.50 598.60 M455.50 525.40 L455.50 398.60 M455.50 325.40 L455.50 252.00 L402.20 252.00 M329.00 252.00 L202.20 252.00 M129.00 252.00 L30.50 252.00 L30.50 280.25 M30.50 352.60 L30.50 479.40 M30.50 552.60 L30.50 679.40 M30.50 752.60 L30.50 879.40"/>
<path class="win" stroke-width="9.3" stroke-linecap="butt" d="M265.80 825.50 L394.20 825.50 M465.80 825.50 L594.20 825.50 M665.80 825.50 L692.50 825.50 L692.50 723.80 M692.50 652.20 L692.50 523.80 M692.50 452.20 L692.50 323.80 M692.50 252.20 L692.50 177.00 L639.45 177.00 M567.85 177.00 L439.45 177.00 M367.85 177.00 L267.50 177.00 L267.50 205.20 M267.50 276.40 L267.50 404.80 M267.50 476.40 L267.50 604.80 M267.50 676.40 L267.50 804.80"/>
<path class="win" stroke-width="7.4" stroke-linecap="round" d="M266.60 825.50 L393.40 825.50 M466.60 825.50 L593.40 825.50 M666.60 825.50 L692.50 825.50 L692.50 724.60 M692.50 651.40 L692.50 524.60 M692.50 451.40 L692.50 324.60 M692.50 251.40 L692.50 177.00 L640.25 177.00 M567.05 177.00 L440.25 177.00 M367.05 177.00 L267.50 177.00 L267.50 204.40 M267.50 277.20 L267.50 404.00 M267.50 477.20 L267.50 604.00 M267.50 677.20 L267.50 804.00"/>
<path class="win" stroke-width="9.3" stroke-linecap="butt" d="M578.40 750.50 L706.80 750.50 M778.40 750.50 L906.80 750.50 M978.40 750.50 L1005.00 750.50 L1005.00 648.80 M1005.00 577.20 L1005.00 448.80 M1005.00 377.20 L1005.00 248.80 M1005.00 177.20 L1005.00 102.50 L951.50 102.50 M879.90 102.50 L751.50 102.50 M679.90 102.50 L580.50 102.50 L580.50 131.10 M580.50 202.60 L580.50 331.00 M580.50 402.60 L580.50 531.00 M580.50 602.60 L580.50 731.00"/>
<path class="win" stroke-width="7.4" stroke-linecap="round" d="M579.20 750.50 L706.00 750.50 M779.20 750.50 L906.00 750.50 M979.20 750.50 L1005.00 750.50 L1005.00 649.60 M1005.00 576.40 L1005.00 449.60 M1005.00 376.40 L1005.00 249.60 M1005.00 176.40 L1005.00 102.50 L952.30 102.50 M879.10 102.50 L752.30 102.50 M679.10 102.50 L580.50 102.50 L580.50 130.30 M580.50 203.40 L580.50 330.20 M580.50 403.40 L580.50 530.20 M580.50 603.40 L580.50 730.20"/>
<text class="lbl" font-size="67" transform="translate(21.9 206.8) scale(1.122 1)" x="-4.59 29.21 59.23 112.87 146.66 163.12" y="0">Sample</text>
<text class="lbl" font-size="67" transform="translate(296.9 119.8) scale(1.122 1)" x="-4.59 29.21 59.23 112.87 146.66 163.12" y="0">Sample</text>
<text class="lbl" font-size="67" transform="translate(671.4 69.8) scale(1.122 1)" x="-4.59 29.21 59.23 112.87 146.66 163.12" y="0">Sample</text>
</svg>
</body>
</html>
